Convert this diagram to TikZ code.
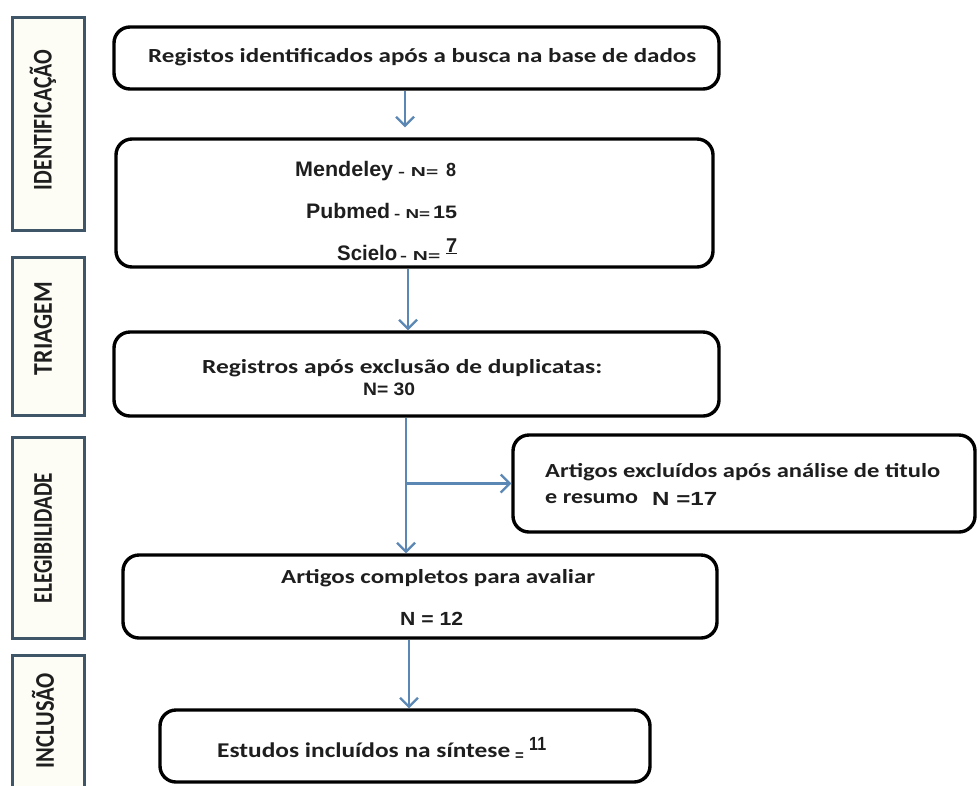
\documentclass[tikz,border=0pt]{standalone}
\usepackage{fontspec}
\usepackage{graphicx}
\usetikzlibrary{arrows.meta}
\newfontfamily\calfont{Carlito}
\newfontfamily\arfont{Liberation Sans}
\definecolor{flowblue}{HTML}{5B87B4}
\definecolor{sidecol}{HTML}{3F5568}
\definecolor{sidefill}{HTML}{FDFDF6}
\definecolor{txt}{HTML}{1E1E1E}
\newcommand\fitw[2]{\resizebox{#1pt}{\height}{#2}}
\begin{document}
\begin{tikzpicture}[x=1pt,y=-1pt,
  mainbox/.style={draw=black, line width=3.4pt, rounded corners=16pt, fill=white, inner sep=0pt},
  sidebox/.style={draw=sidecol, line width=3pt, fill=sidefill, inner sep=0pt},
  flow/.style={draw=flowblue, line width=2.2pt, -{Straight Barb[length=9pt,width=18pt]}},
  caltext/.style={anchor=base west, inner sep=0pt, text=txt, font=\calfont\bfseries\fontsize{20}{24}\selectfont},
  artext/.style={anchor=base west, inner sep=0pt, text=txt, font=\arfont\bfseries\fontsize{19}{22}\selectfont},
  smalltext/.style={anchor=base west, inner sep=0pt, text=txt, font=\arfont\bfseries\fontsize{13}{15}\selectfont},
  sidelabel/.style={rotate=90, anchor=center, inner sep=0pt, text=txt, font=\calfont\bfseries\fontsize{27}{30}\selectfont}
]
\useasboundingbox (0,0) rectangle (979,785);
\fill[white] (0,0) rectangle (979,785);

% side boxes
\node[sidebox, minimum width=72pt, minimum height=213pt] (s1) at (48,123.5) {};
\node[sidebox, minimum width=72pt, minimum height=158pt] (s2) at (48,336) {};
\node[sidebox, minimum width=72pt, minimum height=201pt] (s3) at (48,537.5) {};
\node[sidebox, minimum width=72pt, minimum height=140pt] (s4) at (48,725) {};
\node[sidelabel] (l1) at (43,120) {\fitw{140}{IDENTIFICAÇÃO}};
\node[sidelabel] (l2) at (43,328.5) {\fitw{93}{TRIAGEM}};
\node[sidelabel] (l3) at (43,538) {\fitw{130}{ELEGIBILIDADE}};
\node[sidelabel] (l4) at (43,720.5) {\fitw{95}{INCLUSÃO}};

% main boxes
\node[mainbox, minimum width=605pt, minimum height=62pt] (b1) at (416.5,58) {};
\node[mainbox, minimum width=597pt, minimum height=128pt] (b2) at (414.5,203) {};
\node[mainbox, minimum width=605pt, minimum height=84pt] (b3) at (416.5,374) {};
\node[mainbox, minimum width=462pt, minimum height=97pt] (b4) at (744,483.5) {};
\node[mainbox, minimum width=594pt, minimum height=83pt] (b5) at (420,596.5) {};
\node[mainbox, minimum width=490pt, minimum height=72pt] (b6) at (405,746) {};

% texts
\node[caltext] (t1) at (148,62) {\fitw{548}{Registos identificados após a busca na base de dados}};

\node[artext, font=\arfont\bfseries\fontsize{21}{24}\selectfont] (m1) at (295,176) {\fitw{98}{Mendeley}};
\node[smalltext] (m2) at (398,176) {\fitw{40}{- N=}};
\node[artext] (m3) at (446,176) {\fitw{10}{8}};
\node[artext, font=\arfont\bfseries\fontsize{21}{24}\selectfont] (p1) at (306,218) {\fitw{84}{Pubmed}};
\node[smalltext] (p2) at (394,218) {\fitw{36}{- N=}};
\node[artext, font=\arfont\bfseries\fontsize{18}{22}\selectfont] (p3) at (433,218) {\fitw{24}{15}};
\node[artext, font=\arfont\bfseries\fontsize{21}{24}\selectfont] (c1) at (337,260) {\fitw{60}{Scielo}};
\node[smalltext] (c2) at (400,260) {\fitw{40}{- N=}};
\node[artext, font=\arfont\bfseries\fontsize{20}{24}\selectfont] (c3) at (446,252) {\underline{7}};

\node[caltext] (t3) at (202,373) {\fitw{400}{Registros após exclusão de duplicatas:}};
\node[artext, font=\arfont\bfseries\fontsize{18}{22}\selectfont] (t3n) at (363,395) {\fitw{52}{N= 30}};

\node[caltext] (t4) at (545,477) {\fitw{395}{Artigos excluídos após análise de titulo}};
\node[caltext] (t4b) at (545,503) {\fitw{93}{e resumo}};
\node[artext] (t4n) at (652,505) {\fitw{65}{N =17}};

\node[caltext] (t5) at (281,583) {\fitw{314}{Artigos completos para avaliar}};
\node[artext] (t5n) at (400,625) {\fitw{63}{N = 12}};

\node[caltext, font=\calfont\bfseries\fontsize{21}{24}\selectfont] (t6) at (217,757) {\fitw{293}{Estudos incluídos na síntese}};
\node[artext, font=\arfont\bfseries\fontsize{15}{18}\selectfont] (t6e) at (515,760) {=};
\node[artext, font=\arfont\bfseries\fontsize{19}{22}\selectfont] (t6n) at (529,750) {\fitw{17}{11}};

% connectors
\coordinate (x1) at (405,0);
\coordinate (x2) at (408,0);
\coordinate (x3) at (406,0);
\coordinate (x5) at (409,0);
\draw[flow, shorten >=10pt] (b1.south -| x1) -- (b2.north -| x1);
\draw[flow] (b2.south -| x2) -- (b3.north -| x2);
\draw[flow] (b3.south -| x3) -- (b5.north -| x3);
\draw[flow] (x3 |- b4.west) -- (b4.west);
\draw[flow] (b5.south -| x5) -- (b6.north -| x5);
\end{tikzpicture}
\end{document}
